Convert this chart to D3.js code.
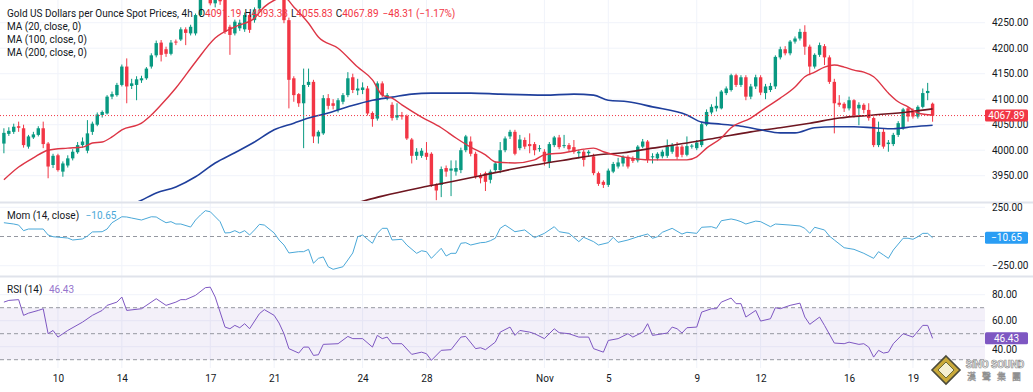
<!DOCTYPE html>
<html lang="en">
<head>
<meta charset="utf-8">
<title>Gold 4h</title>
<script src="https://cdn.jsdelivr.net/npm/d3@7"></script>
<style>
  body { margin: 0; background: #fff; }
  svg text { font-family: Roboto, "Noto Sans", sans-serif; }
</style>
</head>
<body>
<svg id="chart" width="1033" height="392"></svg>
<script>
// ---- data (4h bars) ----
var opens = [
  4013,4032,4036,4047,4043,4007,4025,4030,4043,4013,
  3971,3990,3958,3970,3984,3996,4010,3999,4036,4050,
  4069,4072,4105,4108,4128,4164,4126,4128,4137,4141,
  4164,4186,4211,4198,4189,4213,4217,4237,4229,4229,
  4265,4305,4325,4288,4310,4300,4242,4229,4239,4237,
  4265,4255,4278,4300,4330,4350,4340,4310,4255,4141,
  4110,4092,4128,4134,4027,4033,4102,4092,4079,4095,
  4108,4143,4117,4118,4121,4073,4062,4131,4102,4089,
  4064,4069,4067,4021,3989,3989,3995,3993,3932,3932,
  3965,3960,3958,3961,4000,4017,3993,3951,3955,3942,
  3961,3961,4000,4027,4036,4004,4020,4012,4012,4003,
  3997,3975,4010,4025,4008,4010,4006,3994,3997,3994,
  3988,3955,3938,3932,3958,3968,3974,3987,3984,3980,
  4007,4017,3986,3984,3988,3989,3997,4007,4007,3991,
  4007,4004,4010,4050,4074,4082,4082,4112,4118,4147,
  4128,4143,4105,4125,4143,4112,4118,4125,4182,4198,
  4190,4213,4219,4232,4203,4164,4187,4204,4182,4134,
  4093,4091,4082,4098,4082,4089,4079,4063,4010,4036,
  4012,4012,4030,4043,4082,4078,4066,4085,4112,4091.19
];
var highs = [
  4043,4045,4052,4056,4050,4030,4036,4047,4056,4016,
  3993,3993,3978,3990,4002,4016,4025,4059,4056,4074,
  4078,4108,4115,4132,4168,4180,4140,4145,4146,4163,
  4190,4215,4216,4203,4216,4217,4241,4241,4246,4268,
  4320,4335,4340,4330,4330,4310,4246,4256,4256,4270,
  4270,4280,4320,4340,4360,4365,4345,4330,4260,4145,
  4112,4160,4160,4138,4039,4108,4110,4100,4102,4112,
  4153,4150,4140,4133,4126,4076,4135,4135,4112,4094,
  4092,4075,4070,4024,4004,4004,4016,3996,3935,3968,
  3970,3980,3980,4005,4030,4027,3997,3955,3958,3962,
  3978,4016,4027,4040,4040,4030,4025,4033,4016,4010,
  4002,4016,4028,4030,4030,4014,4020,4001,4001,4000,
  3993,3958,3941,3964,3977,3985,3990,3990,3988,4010,
  4022,4020,3994,3996,4001,4021,4014,4016,4010,4027,
  4012,4020,4054,4080,4090,4105,4118,4125,4150,4150,
  4147,4147,4130,4148,4147,4130,4132,4186,4203,4204,
  4216,4223,4238,4245,4207,4190,4211,4208,4186,4140,
  4108,4094,4105,4100,4094,4092,4092,4066,4056,4043,
  4020,4034,4057,4083,4085,4082,4088,4121,4132,4093.38
];
var lows = [
  3994,4028,4032,4036,4005,4003,4022,4027,4004,3945,
  3965,3958,3948,3966,3980,3993,4005,3994,4030,4047,
  4064,4070,4100,4105,4125,4092,4120,4098,4132,4138,
  4160,4182,4174,4183,4186,4206,4214,4206,4225,4225,
  4262,4298,4284,4280,4285,4228,4187,4225,4234,4232,
  4230,4250,4272,4295,4325,4330,4300,4249,4082,4095,
  4085,4004,4124,4014,4013,4030,4080,4080,4074,4090,
  4104,4112,4108,4110,4068,4046,4058,4104,4098,4058,
  4059,4060,4020,3974,3981,3985,3981,3928,3902,3908,
  3948,3910,3950,3955,3996,3988,3944,3935,3920,3935,
  3957,3955,3996,4022,3990,4000,4002,3994,3990,3997,
  3970,3965,4006,4002,4004,3998,3993,3984,3968,3987,
  3951,3930,3926,3928,3955,3964,3968,3964,3975,3976,
  4004,3975,3974,3980,3984,3985,3993,3982,3986,3988,
  4003,4000,4006,4047,4070,4076,4080,4108,4115,4124,
  4124,4098,4100,4120,4108,4100,4114,4120,4178,4186,
  4186,4209,4215,4187,4147,4160,4183,4167,4130,4033,
  4085,4075,4078,4064,4049,4072,4058,4006,4006,4003,
  3997,4008,4026,4040,4056,4062,4062,4082,4098,4055.83
];
var closes = [
  4034,4038,4046,4044,4010,4027,4031,4043,4012,3968,
  3989,3961,3974,3984,3997,4010,4017,4033,4052,4070,
  4075,4105,4110,4128,4164,4125,4131,4139,4141,4160,
  4186,4210,4187,4189,4211,4211,4237,4230,4242,4265,
  4305,4325,4288,4310,4292,4232,4226,4252,4250,4265,
  4236,4276,4300,4330,4350,4340,4320,4255,4138,4108,
  4092,4128,4134,4027,4036,4102,4087,4087,4098,4108,
  4141,4118,4121,4123,4072,4061,4131,4108,4108,4063,
  4069,4066,4023,3989,3997,3999,3987,3932,3921,3963,
  3958,3964,3965,4000,4027,3993,3948,3945,3938,3958,
  3974,4000,4023,4036,3993,4021,4007,4008,4000,4004,
  3978,4012,4025,4006,4010,4002,3997,3997,3981,3997,
  3955,3934,3932,3960,3973,3976,3987,3968,3979,4007,
  4017,3981,3988,3993,3997,4007,4010,3987,3991,4008,
  4009,4015,4051,4075,4085,4087,4115,4121,4147,4128,
  4143,4105,4125,4143,4113,4125,4126,4183,4198,4190,
  4213,4219,4232,4203,4164,4187,4206,4182,4134,4092,
  4089,4082,4098,4069,4089,4079,4063,4010,4036,4007,
  4015,4030,4053,4080,4066,4066,4085,4112,4116.20,4067.89
];

// moving averages, [bar, value]
var ma20 = [[0,3942],[3,3967],[6,3985],[9,4000],[13,4004],[16,4006],[18,4014],[20,4016],[22,4026],[24,4040],
  [28,4053],[30,4069],[32,4089],[35,4122],[39,4173],[43,4220],[47,4242],[51,4259],[53,4281],[55,4294],
  [57,4300],[59,4281],[62,4249],[64,4222],[68,4200],[72,4163],[75,4138],[77,4108],[79,4102],[81,4089],
  [85,4065],[89,4044],[92,4024],[95,4006],[98,3991],[100,3977],[104,3975],[108,3981],[110,3991],[114,3995],
  [118,4002],[120,4004],[122,3997],[126,3987],[132,3981],[139,3981],[141,3987],[143,4004],[146,4024],[148,4044],
  [152,4063],[155,4083],[158,4102],[161,4124],[163,4144],[165,4153],[167,4163],[169,4167],[171,4163],[173,4157],
  [175,4153],[177,4144],[180,4112],[182,4095],[184,4085],[186,4073],[189,4069]];
var ma100 = [[0,3790],[15,3850],[28,3902],[31,3916],[35,3928],[39,3948],[43,3975],[47,3995],[51,4016],[55,4040],
  [59,4053],[62,4063],[66,4073],[70,4085],[75,4098],[79,4104],[83,4110],[87,4112],[95,4112],[101,4110],
  [110,4108],[116,4110],[120,4108],[123,4098],[127,4095],[132,4085],[139,4069],[142,4055],[146,4051],[150,4047],
  [154,4040],[158,4034],[161,4034],[165,4044],[169,4046],[173,4046],[177,4044],[181,4042],[185,4046],[189,4049]];
var ma200 = [[60,3868],[71,3895],[77,3910],[84,3925],[91,3938],[97,3950],[103,3962],[108,3971],[115,3982],[121,3991],
  [126,3995],[132,4004],[139,4014],[146,4026],[152,4036],[158,4044],[164,4053],[170,4063],[177,4069],[184,4075],[189,4081]];

// momentum (14) and RSI (14), [bar, value]
var mom = [[0,118],[2,107],[3,98],[4,50],[5,64],[8,64],[9,13],[10,-2],[13,-13],[14,-30],[16,-21],[17,4],[18,39],[20,41],
  [21,64],[22,118],[24,169],[25,167],[26,158],[28,141],[30,169],[31,167],[32,141],[33,118],[34,127],[35,107],[36,107],
  [38,81],[39,141],[40,184],[41,221],[42,212],[44,127],[45,30],[46,33],[47,50],[48,30],[49,50],[50,13],[51,56],[52,104],
  [53,98],[55,30],[56,-30],[57,-73],[58,-141],[60,-130],[61,-130],[62,-110],[63,-229],[64,-187],[65,-175],[66,-259],
  [67,-281],[69,-259],[70,-201],[71,-141],[72,-2],[73,13],[74,-24],[75,-58],[76,27],[77,70],[78,70],[79,-30],[81,-24],
  [82,-73],[84,-144],[85,-122],[86,-130],[87,-187],[88,-144],[89,-101],[90,-167],[91,-144],[92,-144],[93,-58],[94,-53],
  [95,-73],[97,-53],[98,-50],[99,-36],[100,-15],[101,70],[102,98],[103,70],[104,41],[106,56],[108,-10],[110,27],[112,84],
  [113,41],[115,27],[117,-44],[118,-7],[120,-44],[121,-73],[123,-53],[124,-7],[125,-50],[127,-30],[129,-2],[131,21],
  [132,-15],[133,-2],[134,36],[136,70],[138,21],[139,36],[141,27],[142,79],[144,84],[145,70],[146,135],[148,150],
  [149,141],[150,127],[151,107],[153,132],[154,127],[156,84],[157,107],[160,98],[162,90],[163,70],[164,27],[165,79],
  [167,56],[168,4],[169,-30],[171,-96],[173,-110],[175,-144],[177,-187],[178,-130],[179,-158],[180,-187],[181,-116],
  [183,-15],[184,-15],[185,-24],[186,-2],[187,27],[188,27],[189,-10.65]];
var rsi = [[0,74.3],[1,75.6],[3,76.2],[4,64.1],[5,65.8],[7,67.9],[8,69.2],[9,50],[10,52.5],[11,47.4],[13,52.5],[16,58.9],
  [18,64.1],[20,67.9],[21,71.8],[23,74.3],[24,78.2],[25,67.9],[28,69.2],[31,76.9],[33,71.8],[35,74.3],[36,76.2],[37,76.2],
  [39,79.5],[41,85.4],[42,85.8],[43,78.2],[45,55.1],[46,53.8],[47,56.4],[48,54.6],[49,57.7],[50,53.8],[52,65.4],[53,68.5],
  [55,64.1],[56,58.2],[57,50],[58,38.5],[60,35.1],[61,39.7],[62,39.7],[63,33.3],[64,33.8],[65,41.8],[68,42.3],[70,47.9],
  [71,46.2],[73,46.2],[75,39.7],[76,48.7],[77,46.2],[78,47.4],[79,42.3],[81,42.3],[83,34.1],[85,35.8],[86,34.6],[87,29.5],
  [89,37.2],[91,37.7],[93,47.4],[94,47.9],[96,38.5],[97,39.2],[98,37.7],[100,43.5],[101,51.2],[103,55.1],[104,48.7],
  [105,52.5],[107,51.2],[108,50],[110,46.2],[112,53.8],[113,50.8],[115,50],[117,47.4],[119,47.4],[120,38.5],[122,35.8],
  [123,44.8],[125,46.2],[127,50],[128,47.4],[130,51.2],[131,57.7],[132,48.7],[135,50.5],[136,55.1],[137,53.8],[138,50.5],
  [139,54.6],[141,55.1],[142,66.6],[144,69.2],[145,69.2],[146,74.3],[148,77.4],[149,73.1],[150,73.1],[151,62.8],[153,67.9],
  [154,59.7],[156,61.5],[157,70],[158,69.2],[160,71.8],[162,73.5],[163,62.8],[164,57.2],[166,62.8],[167,56.4],[169,42.8],
  [171,42.3],[172,43.5],[174,41.8],[175,42.3],[176,39.7],[177,32],[178,37.2],[179,35.1],[180,35.8],[181,42.3],[183,50],
  [184,48.7],[185,47.4],[187,56.4],[188,56.4],[189,46.43]];

var timeTicks = [11, 24, 42, 55, 73, 86, 110, 123, 141, 154, 172, 185];
var timeLabels = ["10", "14", "17", "21", "24", "28", "Nov", "5", "9", "12", "16", "19"];
var priceTicks = [3950, 4000, 4050, 4100, 4150, 4200, 4250];
var momTicks = [250, -250];
var rsiTicks = [80, 60, 40];
var rsiLevels = [70, 50, 30];

var lastPrice = 4067.89, lastMom = -10.65, lastRsi = 46.43;

// ---- layout ----
var plotR = 985;
var svg = d3.select("#chart");
var x = d3.scaleLinear().domain([0, closes.length - 1]).range([3.9, 932.6]);
var yP = d3.scaleLinear().domain([3950, 4250]).range([175.7, 22.7]);
var yM = d3.scaleLinear().domain([-250, 250]).range([265.7, 207.3]);
var yR = d3.scaleLinear().domain([40, 80]).range([346.7, 294.7]);

var defs = svg.append("defs");
function clip(id, y0, y1) {
  defs.append("clipPath").attr("id", id).append("rect")
    .attr("x", 0).attr("y", y0).attr("width", plotR).attr("height", y1 - y0);
}
clip("cMain", 0, 201);
clip("cMom", 204, 275);
clip("cRsi", 278, 368);

// grid
var grid = svg.append("g").attr("stroke", "#f0f3fa").attr("stroke-width", 1);
grid.selectAll("line.v").data(timeTicks).join("line").attr("class", "v")
  .attr("x1", function (d) { return x(d); }).attr("x2", function (d) { return x(d); })
  .attr("y1", 0).attr("y2", 368);
grid.selectAll("line.p").data(priceTicks).join("line").attr("class", "p")
  .attr("x1", 0).attr("x2", plotR).attr("y1", function (d) { return yP(d); }).attr("y2", function (d) { return yP(d); });
grid.selectAll("line.m").data(momTicks).join("line").attr("class", "m")
  .attr("x1", 0).attr("x2", plotR).attr("y1", function (d) { return yM(d); }).attr("y2", function (d) { return yM(d); });
grid.selectAll("line.r").data(rsiTicks).join("line").attr("class", "r")
  .attr("x1", 0).attr("x2", plotR).attr("y1", function (d) { return yR(d); }).attr("y2", function (d) { return yR(d); });

// panel separators
svg.append("g").attr("stroke", "#e0e3eb").attr("stroke-width", 2)
  .selectAll("line").data([202.5, 276.5]).join("line")
  .attr("x1", 0).attr("x2", 1033).attr("y1", function (d) { return d; }).attr("y2", function (d) { return d; });

// ---- main panel ----
var bars = closes.map(function (c, i) { return { i: i, o: opens[i], h: highs[i], l: lows[i], c: c }; });
var up = "#089981", down = "#f23645";
var main = svg.append("g").attr("clip-path", "url(#cMain)");

main.selectAll("line.wick").data(bars).join("line").attr("class", "wick")
  .attr("x1", function (d) { return x(d.i); }).attr("x2", function (d) { return x(d.i); })
  .attr("y1", function (d) { return yP(d.h); }).attr("y2", function (d) { return yP(d.l); })
  .attr("stroke", function (d) { return d.c >= d.o ? up : down; }).attr("stroke-width", 1);
main.selectAll("rect.body").data(bars).join("rect").attr("class", "body")
  .attr("x", function (d) { return x(d.i) - 1.7; }).attr("width", 3.4)
  .attr("y", function (d) { return yP(Math.max(d.o, d.c)); })
  .attr("height", function (d) { return Math.max(1, Math.abs(yP(d.o) - yP(d.c))); })
  .attr("fill", function (d) { return d.c >= d.o ? up : down; });

var maLine = d3.line().x(function (d) { return x(d[0]); }).y(function (d) { return yP(d[1]); }).curve(d3.curveMonotoneX);
main.append("path").attr("d", maLine(ma200)).attr("fill", "none").attr("stroke", "#6e1620").attr("stroke-width", 1.6);
main.append("path").attr("d", maLine(ma100)).attr("fill", "none").attr("stroke", "#1f3f9c").attr("stroke-width", 1.6);
main.append("path").attr("d", maLine(ma20)).attr("fill", "none").attr("stroke", "#dd3545").attr("stroke-width", 1.4);

// last price dotted line
svg.append("line").attr("x1", 0).attr("x2", plotR).attr("y1", yP(lastPrice)).attr("y2", yP(lastPrice))
  .attr("stroke", down).attr("stroke-width", 1).attr("stroke-dasharray", "1,2");

// ---- momentum panel ----
svg.append("line").attr("x1", 0).attr("x2", plotR).attr("y1", yM(0)).attr("y2", yM(0))
  .attr("stroke", "#9598a1").attr("stroke-dasharray", "4,3");
var momLine = d3.line().x(function (d) { return x(d[0]); }).y(function (d) { return yM(d[1]); });
svg.append("g").attr("clip-path", "url(#cMom)").append("path").attr("d", momLine(mom))
  .attr("fill", "none").attr("stroke", "#4aa8d8").attr("stroke-width", 1);

// ---- RSI panel ----
svg.append("rect").attr("x", 0).attr("width", plotR)
  .attr("y", yR(rsiLevels[0])).attr("height", yR(rsiLevels[2]) - yR(rsiLevels[0]))
  .attr("fill", "#7e57c2").attr("fill-opacity", 0.09);
svg.append("g").selectAll("line").data(rsiLevels).join("line")
  .attr("x1", 0).attr("x2", plotR).attr("y1", function (d) { return yR(d); }).attr("y2", function (d) { return yR(d); })
  .attr("stroke", "#9598a1").attr("stroke-dasharray", "4,3");
var rsiLine = d3.line().x(function (d) { return x(d[0]); }).y(function (d) { return yR(d[1]); });
svg.append("g").attr("clip-path", "url(#cRsi)").append("path").attr("d", rsiLine(rsi))
  .attr("fill", "none").attr("stroke", "#7e57c2").attr("stroke-width", 1);

// ---- axes ----
function styleAxis(g) {
  g.select(".domain").remove();
  g.selectAll("text").attr("fill", "#131722").style("font-size", "10px");
}
svg.append("g").attr("transform", "translate(" + plotR + ",0)")
  .call(d3.axisRight(yP).tickValues(priceTicks).tickSize(0).tickPadding(7).tickFormat(d3.format(".2f")))
  .call(styleAxis);
svg.append("g").attr("transform", "translate(" + plotR + ",0)")
  .call(d3.axisRight(yM).tickValues(momTicks).tickSize(0).tickPadding(7)
    .tickFormat(function (d) { return d3.format(".2f")(d).replace("-", "\u2212"); }))
  .call(styleAxis);
// the 40.00 label sits just under the RSI value tag, as in the source
svg.append("g").attr("transform", "translate(" + plotR + ",0)")
  .call(d3.axisRight(yR).tickValues(rsiTicks).tickSize(0).tickPadding(7).tickFormat(d3.format(".2f")))
  .call(styleAxis)
  .selectAll(".tick").filter(function (d) { return d === 40; }).select("text").attr("dy", "0.6em");
svg.append("g").attr("transform", "translate(0,368)")
  .call(d3.axisBottom(x).tickValues(timeTicks).tickSize(0).tickPadding(7)
    .tickFormat(function (d, i) { return timeLabels[i]; }))
  .call(styleAxis);

// value tags on the scale
function tag(y, text, color) {
  svg.append("rect").attr("x", plotR).attr("y", y - 6).attr("width", 43).attr("height", 12).attr("rx", 1.5).attr("fill", color);
  svg.append("text").attr("x", plotR + 21.5).attr("y", y).attr("dy", "0.35em").attr("text-anchor", "middle")
    .attr("fill", "#fff").style("font-size", "10px").text(text);
}
tag(yP(lastPrice), d3.format(".2f")(lastPrice), down);
tag(yM(lastMom), "\u2212" + d3.format(".2f")(-lastMom), "#2a9df4");
tag(yR(lastRsi), d3.format(".2f")(lastRsi), "#7e57c2");

// ---- legends ----
var lg = svg.append("g").style("font-size", "10px");
var head = lg.append("text").attr("x", 7).attr("y", 17).attr("fill", "#131722");
head.append("tspan").text("Gold US Dollars per Ounce Spot Prices, 4h ");
var ohlc = [["O", opens], ["H", highs], ["L", lows], ["C", closes]];
ohlc.forEach(function (p) {
  head.append("tspan").attr("dx", 3).attr("fill", "#131722").text(p[0]);
  head.append("tspan").attr("fill", down).text(d3.format(".2f")(p[1][p[1].length - 1]));
});
var chg = closes[closes.length - 1] - closes[closes.length - 2];
head.append("tspan").attr("dx", 4).attr("fill", down)
  .text("\u2212" + d3.format(".2f")(-chg) + " (\u2212" + d3.format(".2f")(-chg / closes[closes.length - 2] * 100) + "%)");

["MA (20, close, 0)", "MA (100, close, 0)", "MA (200, close, 0)"].forEach(function (t, i) {
  lg.append("text").attr("x", 7).attr("y", 30 + i * 13).attr("fill", "#131722").text(t);
});
var ml = lg.append("text").attr("x", 7).attr("y", 219).attr("fill", "#131722");
ml.append("tspan").text("Mom (14, close) ");
ml.append("tspan").attr("dx", 4).attr("fill", "#4aa8d8").text("\u2212" + d3.format(".2f")(-lastMom));
var rl = lg.append("text").attr("x", 7).attr("y", 293).attr("fill", "#131722");
rl.append("tspan").text("RSI (14) ");
rl.append("tspan").attr("dx", 4).attr("fill", "#9575cd").text(d3.format(".2f")(lastRsi));

// ---- watermark ----
var wm = svg.append("g");
wm.append("path").attr("d", "M946,356 L960,370 L946,384 L932,370 Z").attr("fill", "#c9a93a").attr("stroke", "#4a4a3a").attr("stroke-width", 1.6);
wm.append("path").attr("d", "M946,362 L954,370 L946,378 L938,370 Z").attr("fill", "#f4efd2").attr("stroke", "#6b6b3a").attr("stroke-width", 1);
wm.append("text").attr("x", 995).attr("y", 368).attr("text-anchor", "middle")
  .style("font-size", "10px").style("font-weight", "bold").attr("fill", "#fff")
  .attr("stroke", "#8f8f8f").attr("stroke-width", 0.7).text("SiNO SOUND");
wm.append("text").attr("x", 997).attr("y", 380).attr("text-anchor", "middle")
  .style("font-size", "9px").style("font-family", "'Noto Sans CJK TC'").style("letter-spacing", "6px")
  .attr("fill", "#fff").attr("stroke", "#8f8f8f").attr("stroke-width", 0.5).text("漢聲集團");
</script>
</body>
</html>
